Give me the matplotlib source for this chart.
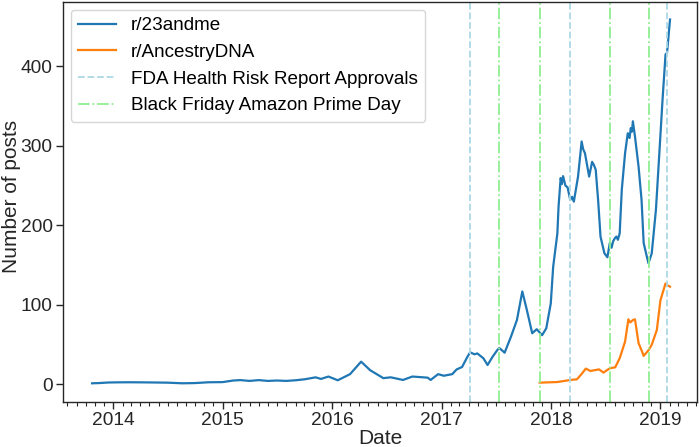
import matplotlib
matplotlib.use("Agg")
import matplotlib.pyplot as plt
import matplotlib.dates as mdates
import pandas as pd

plt.rcParams['font.family'] = ['Liberation Sans', 'DejaVu Sans']

# r/23andme (rolling posts count)
dates_23 = ['2013-10-22', '2013-11-15', '2013-12-15', '2014-01-15', '2014-03-01', '2014-05-01',
            '2014-07-01', '2014-08-20', '2014-10-01', '2014-11-15', '2015-01-01', '2015-02-05',
            '2015-03-01', '2015-04-01', '2015-05-01', '2015-06-01', '2015-07-01', '2015-08-01',
            '2015-09-01', '2015-10-01', '2015-11-07', '2015-11-25', '2015-12-20', '2016-01-20',
            '2016-03-01', '2016-04-07', '2016-05-07', '2016-06-20', '2016-07-15', '2016-08-25',
            '2016-09-25', '2016-11-15', '2016-11-25', '2016-12-20', '2017-01-08', '2017-02-05',
            '2017-02-20', '2017-03-10', '2017-03-28', '2017-04-06', '2017-04-20', '2017-04-30',
            '2017-05-20', '2017-06-03', '2017-06-20', '2017-07-05', '2017-07-12', '2017-07-30',
            '2017-08-20', '2017-09-09', '2017-09-27', '2017-10-12', '2017-10-30', '2017-11-14',
            '2017-12-02', '2017-12-16', '2017-12-31', '2018-01-08', '2018-01-22', '2018-01-26',
            '2018-02-02', '2018-02-06', '2018-02-10', '2018-02-18', '2018-02-25', '2018-03-06',
            '2018-03-12', '2018-03-18', '2018-04-01', '2018-04-13', '2018-04-18', '2018-04-24',
            '2018-05-08', '2018-05-18', '2018-05-24', '2018-05-30', '2018-06-07', '2018-06-15',
            '2018-06-28', '2018-07-08', '2018-07-16', '2018-07-22', '2018-07-27', '2018-08-02',
            '2018-08-07', '2018-08-12', '2018-08-18', '2018-08-25', '2018-09-05', '2018-09-14',
            '2018-09-20', '2018-09-24', '2018-09-28', '2018-10-01', '2018-10-08', '2018-10-20',
            '2018-10-30', '2018-11-06', '2018-11-14', '2018-11-22', '2018-12-03', '2018-12-17',
            '2018-12-29', '2019-01-08', '2019-01-18', '2019-01-23', '2019-02-02']
posts_23 = [1.5, 1.8, 2.5, 2.7, 2.8, 2.6,
            2.3, 1.5, 1.8, 2.8, 3.0, 5.0,
            5.5, 4.5, 5.5, 4.5, 5.0, 4.5,
            5.3, 6.5, 9.0, 7.0, 10.0, 5.3,
            13.0, 28.7, 18.0, 8.0, 9.0, 5.7,
            10.0, 8.6, 5.7, 13.0, 11.0, 13.0,
            19.0, 22.0, 35.0, 40.5, 38.0, 39.0,
            33.0, 24.5, 35.0, 43.0, 46.0, 40.0,
            60.0, 81.0, 117.0, 94.0, 64.4, 69.5,
            62.0, 70.7, 102.0, 148.0, 190.0, 224.0,
            259.6, 252.0, 262.0, 250.0, 248.0, 232.0,
            236.0, 230.0, 261.5, 305.6, 296.0, 291.0,
            261.5, 280.0, 276.0, 270.0, 232.0, 186.0,
            165.0, 160.0, 178.0, 172.0, 180.0, 184.0,
            186.0, 182.0, 190.0, 245.0, 291.0, 316.0,
            310.0, 322.5, 318.0, 331.0, 312.0, 274.0,
            232.0, 178.0, 165.0, 152.5, 165.0, 220.0,
            295.0, 358.0, 415.0, 417.0, 459.0]

# r/AncestryDNA
dates_anc = ['2017-11-24', '2018-01-22', '2018-03-06', '2018-03-28', '2018-04-12', '2018-04-27',
             '2018-05-12', '2018-06-10', '2018-06-25', '2018-07-16', '2018-08-03', '2018-08-18',
             '2018-09-05', '2018-09-16', '2018-09-22', '2018-10-01', '2018-10-08', '2018-10-20',
             '2018-10-30', '2018-11-06', '2018-11-22', '2018-12-03', '2018-12-20', '2019-01-01',
             '2019-01-18', '2019-01-23', '2019-02-02']
posts_anc = [2.3, 3.1, 5.7, 6.5, 12.8, 20.0,
             17.0, 19.0, 15.0, 20.4, 21.6, 33.0,
             54.0, 82.0, 78.0, 81.0, 82.0, 52.0,
             43.0, 36.0, 43.0, 50.0, 68.6, 106.0,
             127.0, 125.0, 123.0]

fda_dates = ['2017-04-06', '2018-03-06', '2019-01-22']
sales_dates = ['2017-07-11', '2017-11-24', '2018-07-16', '2018-11-23']

fig = plt.figure(figsize=(7.0, 4.47), dpi=100)
ax = fig.add_axes([0.09, 0.1007, 0.9057, 0.8948])

ax.plot(pd.to_datetime(dates_23), posts_23, color='#1f77b4', lw=1.6, label='r/23andme')
ax.plot(pd.to_datetime(dates_anc), posts_anc, color='#ff7f0e', lw=1.6, label='r/AncestryDNA')
for i, d in enumerate(fda_dates):
    ax.axvline(pd.Timestamp(d), color='lightblue', ls='--', lw=1.3,
               label='FDA Health Risk Report Approvals' if i == 0 else None)
for i, d in enumerate(sales_dates):
    ax.axvline(pd.Timestamp(d), color='lightgreen', ls='-.', lw=1.3,
               label='Black Friday Amazon Prime Day' if i == 0 else None)

ax.set_xlim(pd.Timestamp('2013-07-17'), pd.Timestamp('2019-05-03'))
ax.set_ylim(-22, 481)
ax.xaxis.set_major_locator(mdates.YearLocator())
ax.xaxis.set_major_formatter(mdates.DateFormatter('%Y'))
ax.xaxis.set_minor_locator(mdates.MonthLocator())
ax.set_yticks([0, 100, 200, 300, 400])

for s in ax.spines.values():
    s.set_color('#262626')
    s.set_linewidth(1.0)
ax.tick_params(axis='both', which='major', length=5, width=1.0, color='#262626',
               labelsize=13.8, labelcolor='#262626', pad=2.5)
ax.tick_params(axis='x', which='minor', length=3, width=0.8, color='#262626')
ax.set_xlabel('Date', fontsize=15, color='#262626', labelpad=0)
ax.set_ylabel('Number of posts', fontsize=15, color='#262626')
ax.yaxis.set_label_coords(-0.067, 0.515)

leg = ax.legend(loc='upper left', fontsize=13.6, frameon=True, framealpha=0.8,
                edgecolor='#cccccc', handlelength=2.0, labelspacing=0.5,
                borderaxespad=0.4)

fig.savefig('out.png', dpi=100)
